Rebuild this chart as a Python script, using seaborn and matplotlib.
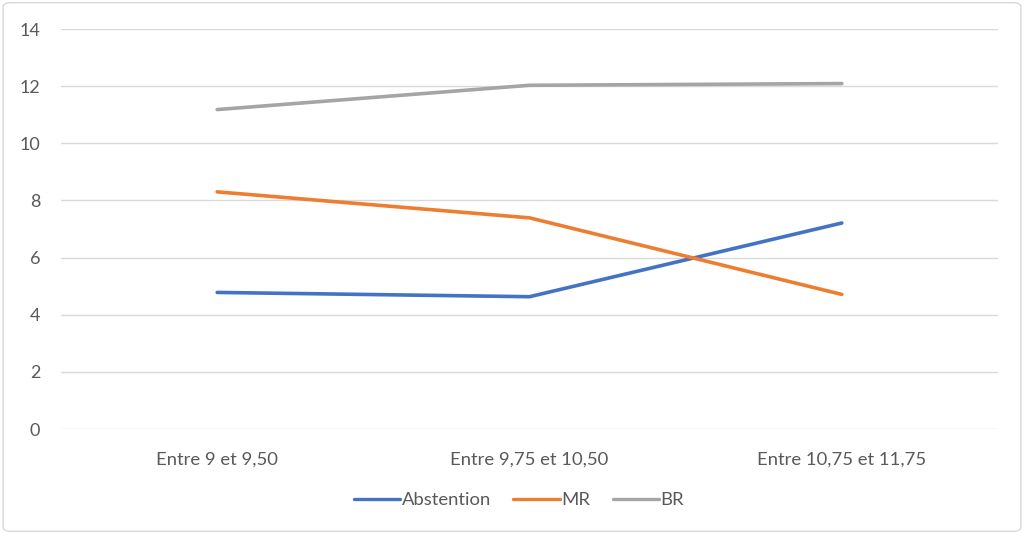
import matplotlib
matplotlib.use("Agg")
import matplotlib.pyplot as plt
from matplotlib.patches import FancyBboxPatch
import seaborn as sns
import pandas as pd

categories = ["Entre 9 et 9,50", "Entre 9,75 et 10,50", "Entre 10,75 et 11,75"]
abstention = [4.78, 4.63, 7.21]
mr = [8.30, 7.39, 4.71]
br = [11.18, 12.03, 12.09]
series_names = ["Abstention", "MR", "BR"]
colors = ["#4472C4", "#ED7D31", "#A5A5A5"]

rows = []
for name, vals in zip(series_names, [abstention, mr, br]):
    for cat, v in zip(categories, vals):
        rows.append({"cat": cat, "val": v, "serie": name})
df = pd.DataFrame(rows)

sns.set_theme(style="white")
plt.rcParams["font.family"] = ["Lato", "DejaVu Sans"]

fig = plt.figure(figsize=(10.24, 5.34), dpi=100)
ax = fig.add_axes([61 / 1024, 1 - 429 / 534, (998 - 61) / 1024, (429 - 29) / 534])

sns.lineplot(data=df, x="cat", y="val", hue="serie", hue_order=series_names,
             palette=colors, linewidth=2.6, sort=False, ax=ax, legend=False)

ax.set_xlim(-0.5, 2.5)
ax.set_ylim(0, 14)
ax.set_yticks(range(0, 15, 2))
ax.grid(axis="y", color="#D9D9D9", linewidth=1)
ax.set_axisbelow(True)
for s in ax.spines.values():
    s.set_visible(False)
ax.tick_params(axis="x", length=0, labelsize=13.3, colors="#595959", pad=16)
ax.tick_params(axis="y", length=0, labelsize=13, colors="#595959", pad=15)
ax.set_xlabel("")
ax.set_ylabel("")

handles = [plt.Line2D([0], [0], color=c, linewidth=2.4) for c in colors]
fig.legend(handles, series_names, loc="center", bbox_to_anchor=(0.507, 1 - 500 / 534),
           ncol=3, frameon=False, fontsize=13.3, labelcolor="#595959",
           handlelength=2.5, handletextpad=0.1, columnspacing=1.2)

fig.patches.append(FancyBboxPatch((0.003, 0.005), 0.994, 0.99,
                                  boxstyle="round,pad=0,rounding_size=0.008",
                                  transform=fig.transFigure, fill=False,
                                  edgecolor="#D9D9D9", linewidth=1))

fig.savefig("out.png", dpi=100)
